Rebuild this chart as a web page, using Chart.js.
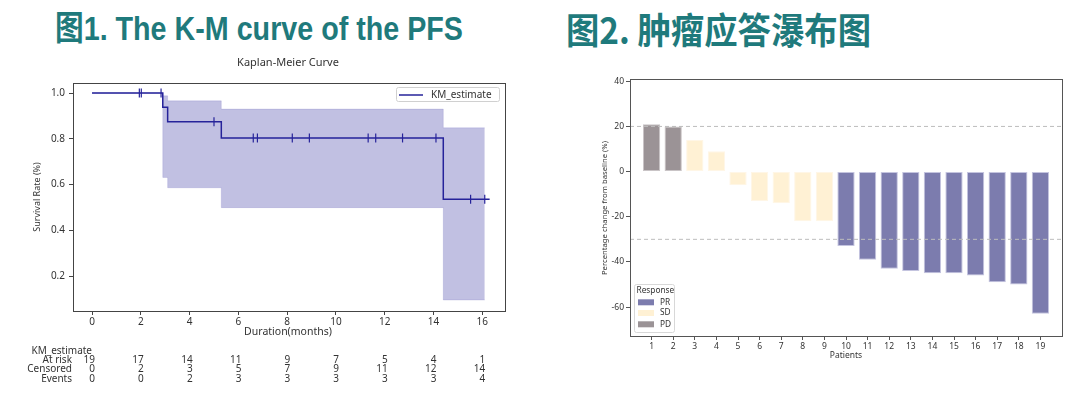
<!DOCTYPE html>
<html>
<head>
<meta charset="utf-8">
<script src="https://cdn.jsdelivr.net/npm/chart.js@4.4.0/dist/chart.umd.min.js"></script>
<style>
html, body { margin: 0; padding: 0; background: #fff; }
body { width: 1080px; height: 397px; position: relative; overflow: hidden; }
.head { position: absolute; white-space: nowrap; font-weight: bold; color: #1f7a7c; transform-origin: 0 0; }
#h1 { left: 55px; top: 11px; font-size: 34px; line-height: 34px; font-family: "Liberation Sans", "Noto Sans CJK SC", sans-serif; }
#h2 { left: 566px; top: 10px; font-size: 36px; line-height: 36px; font-family: "Noto Sans CJK SC", sans-serif; }
canvas { position: absolute; top: 0; }
</style>
</head>
<body>
<div class="head" id="h1" data-w="408">图1. The K-M curve of the PFS</div>
<div class="head" id="h2" data-w="305">图2. 肿瘤应答瀑布图</div>
<canvas id="km" width="540" height="397" style="left:0px"></canvas>
<canvas id="wf" width="540" height="397" style="left:540px"></canvas>
<script>
// --- KM curve data ---
const kmTimes = [0, 2.9, 3.1, 5.3, 14.4, 16.3];
const kmSurv = [1.0, 0.9375, 0.875, 0.8036, 0.5357, 0.5357];
const ciTimes = [0, 2.9, 3.1, 5.3, 14.4, 16.1];
const ciUpper = [1.0, 0.988, 0.966, 0.930, 0.848, 0.848];
const ciLower = [1.0, 0.631, 0.586, 0.499, 0.095, 0.095];
const censorTimes = [1.94, 2.02, 2.83, 5.0, 6.61, 6.78, 8.21, 8.91, 11.32, 11.63, 12.73, 14.1, 15.52, 16.1];
const censorSurv = [1.0, 1.0, 1.0, 0.875, 0.8036, 0.8036, 0.8036, 0.8036, 0.8036, 0.8036, 0.8036, 0.8036, 0.5357, 0.5357];
const kmXTicks = [0, 2, 4, 6, 8, 10, 12, 14, 16];
const kmYTicks = [0.2, 0.4, 0.6, 0.8, 1.0];
const atRisk = [19, 17, 14, 11, 9, 7, 5, 4, 1];
const censoredCounts = [0, 2, 3, 5, 7, 9, 11, 12, 14];
const eventCounts = [0, 0, 2, 3, 3, 3, 3, 3, 4];

// --- waterfall data ---
const patients = [1, 2, 3, 4, 5, 6, 7, 8, 9, 10, 11, 12, 13, 14, 15, 16, 17, 18, 19];
const pctChange = [21, 20, 14, 9, -6, -13, -14, -22, -22, -33, -39, -43, -44, -45, -45, -46, -49, -50, -63];
const response = ['PD', 'PD', 'SD', 'SD', 'SD', 'SD', 'SD', 'SD', 'SD', 'PR', 'PR', 'PR', 'PR', 'PR', 'PR', 'PR', 'PR', 'PR', 'PR'];
const responseTypes = ['PR', 'SD', 'PD'];
const thresholds = [20, -30];
const wfYTicks = [-60, -40, -20, 0, 20, 40];

const FONT = '"Noto Sans", sans-serif';
const kmColor = '#26239a';
const respFill = { PR: '#7c7cae', SD: '#fff1d4', PD: '#9b9396' };
const respEdge = { PR: '#c4c4df', SD: '#fff6e6', PD: '#c9c4c6' };

// headline width fit
document.querySelectorAll('.head').forEach(function (el) {
    var w = el.getBoundingClientRect().width;
    el.style.transform = 'scaleX(' + (el.dataset.w / w) + ')';
});

function pts(xs, ys) {
    return xs.map(function (x, i) { return { x: x, y: ys[i] }; });
}

// ---------- chart 1: Kaplan-Meier ----------
const kmExtras = {
    id: 'kmExtras',
    afterDraw(chart) {
        const ctx = chart.ctx, a = chart.chartArea;
        const xs = chart.scales.x;
        ctx.save();
        ctx.strokeStyle = '#444';
        ctx.lineWidth = 1;
        ctx.strokeRect(a.left + 0.5, a.top + 0.5, a.right - a.left, a.bottom - a.top);

        ctx.fillStyle = '#333';
        ctx.textBaseline = 'middle';
        ctx.textAlign = 'center';
        ctx.font = '11px ' + FONT;
        ctx.fillText('Kaplan-Meier Curve', 288, 63);
        ctx.font = '10.5px ' + FONT;
        ctx.fillText('Duration(months)', 288, 332);
        ctx.save();
        ctx.translate(37, 197);
        ctx.rotate(-Math.PI / 2);
        ctx.font = '9px ' + FONT;
        ctx.fillText('Survival Rate (%)', 0, 0);
        ctx.restore();

        // legend
        ctx.fillStyle = 'rgba(255,255,255,0.85)';
        ctx.strokeStyle = '#d0d0d0';
        ctx.beginPath();
        ctx.roundRect(396.5, 87.5, 103, 14, 2);
        ctx.fill();
        ctx.stroke();
        ctx.strokeStyle = kmColor;
        ctx.lineWidth = 1.5;
        ctx.beginPath();
        ctx.moveTo(399, 95);
        ctx.lineTo(423, 95);
        ctx.stroke();
        ctx.fillStyle = '#333';
        ctx.textAlign = 'left';
        ctx.font = '10px ' + FONT;
        ctx.fillText(chart.data.datasets[0].label, 431, 95);

        // at-risk table
        ctx.textAlign = 'right';
        ctx.fillText('KM_estimate', 92, 351);
        const rows = [['At risk', atRisk, 360], ['Censored', censoredCounts, 369.3], ['Events', eventCounts, 378.7]];
        rows.forEach(function (r) {
            ctx.fillText(r[0], 72, r[2]);
            r[1].forEach(function (v, i) {
                ctx.fillText(String(v), xs.getPixelForValue(kmXTicks[i]) + 3, r[2]);
            });
        });
        ctx.restore();
    }
};

new Chart(document.getElementById('km'), {
    type: 'line',
    data: {
        datasets: [
            { label: 'KM_estimate', data: pts(kmTimes, kmSurv), stepped: true, borderColor: kmColor, borderWidth: 1.5, pointRadius: 0, fill: false },
            { label: 'censor', data: pts(censorTimes, censorSurv), showLine: false, pointStyle: 'line', rotation: 90, pointRadius: 4.5, pointBorderColor: kmColor, pointBorderWidth: 1.2, pointBackgroundColor: kmColor },
            { label: 'upper', data: pts(ciTimes, ciUpper), stepped: true, borderColor: 'rgba(38,35,154,0.12)', borderWidth: 1, pointRadius: 0, fill: false },
            { label: 'lower', data: pts(ciTimes, ciLower), stepped: true, borderColor: 'rgba(38,35,154,0.12)', borderWidth: 1, pointRadius: 0, fill: '-1', backgroundColor: 'rgba(38,35,154,0.285)' }
        ]
    },
    options: {
        responsive: false,
        animation: false,
        layout: { padding: { left: 0, right: 35, top: 83, bottom: 0 } },
        plugins: { legend: { display: false }, tooltip: { enabled: false } },
        scales: {
            x: {
                type: 'linear', min: -0.78, max: 16.93,
                afterBuildTicks: function (s) { s.ticks = kmXTicks.map(function (v) { return { value: v }; }); },
                afterFit: function (s) { s.height = 86; },
                grid: { drawOnChartArea: false, tickLength: 4, tickColor: '#444' },
                border: { color: '#444' },
                ticks: { color: '#333', font: { family: FONT, size: 10 }, padding: 1, maxRotation: 0, autoSkip: false, callback: function (v) { return v; } }
            },
            y: {
                min: 0.047, max: 1.044,
                afterBuildTicks: function (s) { s.ticks = kmYTicks.map(function (v) { return { value: v }; }); },
                afterFit: function (s) { s.width = 73; },
                grid: { drawOnChartArea: false, tickLength: 4, tickColor: '#444' },
                border: { color: '#444' },
                ticks: { color: '#333', font: { family: FONT, size: 10 }, padding: 4, callback: function (v) { return v.toFixed(1); } }
            }
        }
    },
    plugins: [kmExtras]
});

// ---------- chart 2: waterfall ----------
const wfExtras = {
    id: 'wfExtras',
    afterDraw(chart) {
        const ctx = chart.ctx, a = chart.chartArea;
        ctx.save();
        ctx.strokeStyle = '#555';
        ctx.lineWidth = 1;
        ctx.strokeRect(a.left + 0.5, a.top + 0.5, a.right - a.left, a.bottom - a.top);

        ctx.fillStyle = '#333';
        ctx.textBaseline = 'middle';
        ctx.textAlign = 'center';
        ctx.font = '8.5px ' + FONT;
        ctx.fillText('Patients', 306, 356);
        ctx.save();
        ctx.translate(65, 208);
        ctx.rotate(-Math.PI / 2);
        ctx.font = '7.7px ' + FONT;
        ctx.fillText('Percentage change from baseline (%)', 0, 0);
        ctx.restore();

        // legend
        ctx.fillStyle = 'rgba(255,255,255,0.85)';
        ctx.strokeStyle = '#d8d8d8';
        ctx.beginPath();
        ctx.roundRect(94.5, 284.5, 40, 48, 2);
        ctx.fill();
        ctx.stroke();
        ctx.textAlign = 'left';
        ctx.fillStyle = '#333';
        ctx.font = '8.3px ' + FONT;
        ctx.fillText('Response', 96.5, 290.5);
        const ys = [302.3, 313, 324.3];
        responseTypes.forEach(function (r, i) {
            ctx.fillStyle = respFill[r];
            ctx.fillRect(98, ys[i] - 3, 16, 6);
            ctx.fillStyle = '#333';
            ctx.fillText(r, 120, ys[i]);
        });
        ctx.restore();
    }
};

new Chart(document.getElementById('wf'), {
    type: 'bar',
    data: {
        datasets: thresholds.map(function (t) {
            return { type: 'line', data: [{ x: 0, y: t }, { x: 20, y: t }], borderColor: '#bdbdbd', borderWidth: 1, borderDash: [4, 3], pointRadius: 0, fill: false };
        }).concat([{
            label: 'Response',
            data: pts(patients, pctChange),
            backgroundColor: response.map(function (r) { return respFill[r]; }),
            borderColor: response.map(function (r) { return respEdge[r]; }),
            borderWidth: 1,
            borderSkipped: false,
            barPercentage: 0.8,
            categoryPercentage: 1.0
        }])
    },
    options: {
        responsive: false,
        animation: false,
        layout: { padding: { left: 0, right: 18, top: 79, bottom: 0 } },
        plugins: { legend: { display: false }, tooltip: { enabled: false } },
        scales: {
            x: {
                type: 'linear', min: 0, max: 20, offset: false,
                afterBuildTicks: function (s) { s.ticks = patients.map(function (v) { return { value: v }; }); },
                afterFit: function (s) { s.height = 61; },
                grid: { offset: false, drawOnChartArea: false, tickLength: 4, tickColor: '#555' },
                border: { color: '#555' },
                ticks: { color: '#333', font: { family: FONT, size: 8.5 }, padding: 1, maxRotation: 0, autoSkip: false, callback: function (v) { return v; } }
            },
            y: {
                min: -72.8, max: 41,
                afterBuildTicks: function (s) { s.ticks = wfYTicks.map(function (v) { return { value: v }; }); },
                afterFit: function (s) { s.width = 90; },
                grid: { drawOnChartArea: false, tickLength: 4, tickColor: '#555' },
                border: { color: '#555' },
                ticks: { color: '#333', font: { family: FONT, size: 8.5 }, padding: 2, callback: function (v) { return v; } }
            }
        }
    },
    plugins: [wfExtras]
});
</script>
</body>
</html>
